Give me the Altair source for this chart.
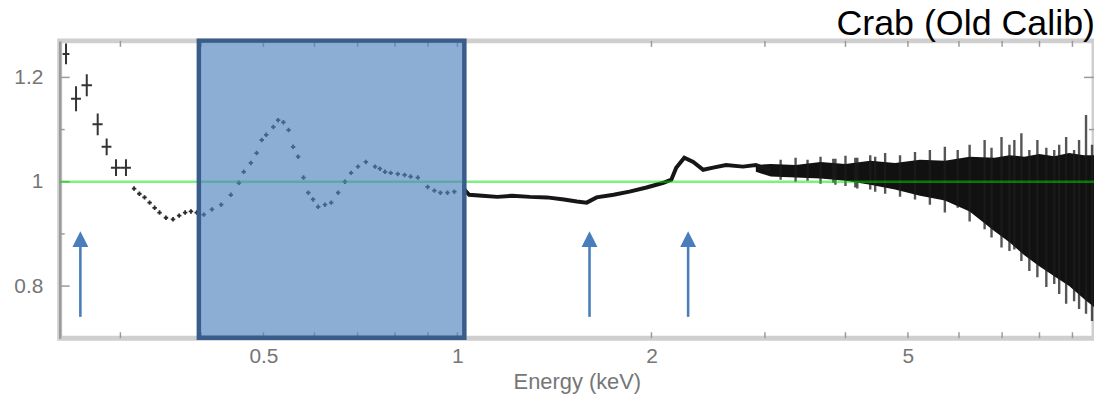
import altair as alt
import pandas as pd

# ---------------- data ----------------
TITLE = ["Crab (Old Calib)"]

# low-energy points with error bars (crosses)
CROSS_E = [0.247, 0.256, 0.266, 0.2766, 0.2856, 0.2953, 0.306]
CROSS_E_LO = [0.244, 0.2515, 0.261, 0.2715, 0.2805, 0.290, 0.3005]
CROSS_E_HI = [0.250, 0.2605, 0.271, 0.2815, 0.2905, 0.3005, 0.3115]
CROSS_R = [1.245, 1.159, 1.185, 1.110, 1.067, 1.027, 1.027]
CROSS_RERR = [0.020, 0.024, 0.021, 0.021, 0.016, 0.016, 0.016]

# dotted part 0.3 - 1 keV
DOT_E = [0.315, 0.321, 0.327, 0.333, 0.339, 0.345, 0.353, 0.362, 0.370, 0.378,
         0.386, 0.394, 0.404, 0.416, 0.430, 0.445, 0.458, 0.466, 0.478, 0.488,
         0.497, 0.505, 0.518, 0.527, 0.537, 0.547, 0.556, 0.566, 0.577, 0.587,
         0.597, 0.608, 0.623, 0.637, 0.653, 0.669, 0.684, 0.701, 0.721, 0.745,
         0.758, 0.772, 0.788, 0.808, 0.828, 0.846, 0.868, 0.899, 0.921, 0.941,
         0.965, 0.989, 1.025]
DOT_R = [0.987, 0.977, 0.970, 0.960, 0.950, 0.941, 0.931, 0.928, 0.935, 0.941,
         0.943, 0.941, 0.937, 0.947, 0.956, 0.975, 0.998, 1.019, 1.036, 1.055,
         1.080, 1.090, 1.105, 1.118, 1.114, 1.099, 1.067, 1.048, 1.008, 0.979,
         0.966, 0.952, 0.956, 0.960, 0.979, 1.000, 1.017, 1.029, 1.038, 1.029,
         1.025, 1.019, 1.017, 1.015, 1.013, 1.010, 1.008, 0.990, 0.983, 0.979,
         0.979, 0.981, 0.985]

# dense continuous part 1 - 3 keV
LINE_E = [1.025, 1.043, 1.093, 1.153, 1.216, 1.296, 1.377, 1.463, 1.532, 1.587,
          1.644, 1.747, 1.849, 1.965, 2.087, 2.147, 2.185, 2.249, 2.322, 2.406,
          2.493, 2.611, 2.773, 2.904, 2.977, 3.063]
LINE_R = [0.985, 0.975, 0.973, 0.971, 0.973, 0.971, 0.970, 0.966, 0.962, 0.960,
          0.970, 0.975, 0.981, 0.989, 0.998, 1.004, 1.027, 1.046, 1.038, 1.023,
          1.027, 1.032, 1.029, 1.032, 1.027, 1.023]

# noisy high-energy part: envelope of the dense black band
BAND_E = [2.904, 3.063, 3.347, 3.659, 3.999, 4.370, 4.775, 5.220, 5.705, 6.233,
          6.813, 7.186, 7.579, 7.994, 8.433, 8.894, 9.381, 9.720]
BAND_TOP = [1.032, 1.034, 1.032, 1.038, 1.034, 1.040, 1.036, 1.042, 1.040, 1.048,
            1.046, 1.051, 1.048, 1.053, 1.049, 1.055, 1.051, 1.051]
BAND_BOT = [1.019, 1.010, 1.008, 1.006, 1.002, 0.994, 0.985, 0.973, 0.964, 0.943,
            0.905, 0.884, 0.859, 0.838, 0.819, 0.800, 0.775, 0.760]

# individual large error bars sticking out of the band
SPIKE_E = [3.173, 3.347, 3.493, 3.659, 3.830, 4.000, 4.173, 4.370, 4.609,
           3.859, 4.143, 4.448, 4.861, 5.128, 5.408, 5.705, 5.973, 6.233, 6.576,
           6.740, 6.985, 7.186, 7.313, 7.499, 7.715, 7.940, 8.198, 8.433, 8.583,
           8.799, 9.053, 9.215, 9.447, 9.652]
SPIKE_HI = [1.042, 1.046, 1.042, 1.048, 1.044, 1.050, 1.046, 1.051, 1.055,
            1.044, 1.046, 1.048, 1.051, 1.057, 1.061, 1.067, 1.061, 1.071, 1.080,
            1.065, 1.086, 1.071, 1.080, 1.093, 1.061, 1.080, 1.065, 1.061, 1.071,
            1.086, 1.061, 1.080, 1.128, 1.071]
SPIKE_LO = [1.004, 1.000, 1.002, 0.996, 0.998, 0.992, 0.987, 0.985, 0.977,
            0.994, 0.989, 0.981, 0.971, 0.966, 0.956, 0.941, 0.950, 0.924, 0.909,
            0.893, 0.874, 0.867, 0.870, 0.848, 0.829, 0.817, 0.798, 0.804, 0.785,
            0.766, 0.771, 0.756, 0.747, 0.733]

GREEN_R = [1.0]

# highlighted energy band (blue box)
BOX_E = [0.397]
BOX_E2 = [1.025]
BOX_R = [1.2705]
BOX_R2 = [0.701]

# arrows
ARROW_E = [0.260, 1.603, 2.280]
ARROW_BOTTOM = [0.741, 0.741, 0.741]
ARROW_TOP = [0.885, 0.885, 0.885]
ARROW_HEAD = [0.890, 0.890, 0.890]

# axis ticks
X_LABELS = [0.5, 1, 2, 5]
X_TICKS = [0.3, 0.4, 0.5, 0.6, 0.7, 0.8, 0.9, 1, 2, 3, 4, 5, 6, 7, 8, 9]
Y_LABELS = [0.8, 1.0, 1.2]
Y_TICKS_MINOR = [0.9, 1.1]

W, H = 1040, 299

# ---------------- frames ----------------
cross_df = pd.DataFrame({"E": CROSS_E, "Elo": CROSS_E_LO, "Ehi": CROSS_E_HI,
                         "R": CROSS_R,
                         "Rlo": [r - e for r, e in zip(CROSS_R, CROSS_RERR)],
                         "Rhi": [r + e for r, e in zip(CROSS_R, CROSS_RERR)]})
dot_df = pd.DataFrame({"E": DOT_E, "R": DOT_R})
line_df = pd.DataFrame({"E": LINE_E, "R": LINE_R})
band_df = pd.DataFrame({"E": BAND_E, "R": BAND_TOP, "R2": BAND_BOT})
spike_df = pd.DataFrame({"E": SPIKE_E, "R": SPIKE_HI, "R2": SPIKE_LO})
green_df = pd.DataFrame({"R": GREEN_R})
box_df = pd.DataFrame({"E": BOX_E, "E2": BOX_E2, "R": BOX_R, "R2": BOX_R2})
arrow_df = pd.DataFrame({"E": ARROW_E, "R": ARROW_BOTTOM, "R2": ARROW_TOP, "H": ARROW_HEAD})
xt_df = pd.DataFrame({"E": X_TICKS})
yt_major_df = pd.DataFrame({"R": Y_LABELS})
yt_minor_df = pd.DataFrame({"R": Y_TICKS_MINOR})
title_df = pd.DataFrame({"t": TITLE})

xscale = alt.Scale(type="log", domain=[0.2415, 9.72], nice=False)
yscale = alt.Scale(domain=[0.70, 1.27], nice=False, zero=False)

LABEL_FONT = "Liberation Sans"
xaxis = alt.Axis(values=X_LABELS, format=".1~f", title="Energy (keV)", grid=False,
                 ticks=False, domain=False, labelPadding=7, labelFontSize=21,
                 labelColor="#767676", labelFont=LABEL_FONT, titleFont=LABEL_FONT,
                 titleFontSize=22, titleFontWeight="normal", titleColor="#767676",
                 titlePadding=6)
yaxis = alt.Axis(values=Y_LABELS, format=".1~f", title=None, grid=False,
                 ticks=False, domain=True, domainColor="#9a9a9a", domainWidth=2.5,
                 labelPadding=17, labelFontSize=21, labelColor="#767676",
                 labelFont=LABEL_FONT)


def X(f="E"):
    return alt.X(f, type="quantitative", scale=xscale, axis=xaxis)


def Y(f="R"):
    return alt.Y(f, type="quantitative", scale=yscale, axis=yaxis)


band = alt.Chart(band_df).mark_area(color="#111111", clip=True).encode(
    x=X(), y=Y(), y2="R2")
spikes = alt.Chart(spike_df).mark_rule(color="#1c1c1c", strokeWidth=2.4, opacity=0.75,
                                       clip=True).encode(x=X(), y=Y(), y2="R2")
line = alt.Chart(line_df).mark_line(color="#161616", strokeWidth=4).encode(
    x=X(), y=Y())
dots = alt.Chart(dot_df).mark_point(shape="cross", filled=True, size=20,
                                    color="#2a2a2a", opacity=1).encode(x=X(), y=Y())
cross_v = alt.Chart(cross_df).mark_rule(color="#333333", strokeWidth=2,
                                        clip=True).encode(x=X(), y=Y("Rlo"), y2="Rhi")
cross_h = alt.Chart(cross_df).mark_rule(color="#333333", strokeWidth=2,
                                        clip=True).encode(x=X("Elo"), x2="Ehi", y=Y())
green = alt.Chart(green_df).mark_rule(color="#00e000", opacity=0.5,
                                      strokeWidth=2.6).encode(y=Y())
box = alt.Chart(box_df).mark_rect(fill="#4F81BD", fillOpacity=0.65, stroke="#385D8A",
                                  strokeWidth=4.5).encode(x=X(), x2="E2", y=Y(), y2="R2")
arrow_shaft = alt.Chart(arrow_df).mark_rule(color="#4A7EBB", strokeWidth=2.6).encode(
    x=X(), y=Y(), y2="R2")
arrow_head = alt.Chart(arrow_df).mark_point(shape="M0,-1L1,1L-1,1Z", size=256,
                                            filled=True, color="#4A7EBB",
                                            opacity=1).encode(x=X(), y=Y("H"))

# inward ticks on the frame
xt_bottom = alt.Chart(xt_df).mark_rule(color="#9a9a9a", strokeWidth=1.5).encode(
    x=X(), y=alt.value(H), y2=alt.value(H - 6))
xt_top = alt.Chart(xt_df).mark_rule(color="#9a9a9a", strokeWidth=1.5).encode(
    x=X(), y=alt.value(0), y2=alt.value(6))
yt_left = alt.Chart(yt_major_df).mark_rule(color="#9a9a9a", strokeWidth=1.5).encode(
    y=Y(), x=alt.value(0), x2=alt.value(10))
yt_left_minor = alt.Chart(yt_minor_df).mark_rule(color="#9a9a9a", strokeWidth=1.5).encode(
    y=Y(), x=alt.value(0), x2=alt.value(5))
yt_right = alt.Chart(yt_major_df).mark_rule(color="#9a9a9a", strokeWidth=1.5).encode(
    y=Y(), x=alt.value(W), x2=alt.value(W - 10))
yt_right_minor = alt.Chart(yt_minor_df).mark_rule(color="#9a9a9a", strokeWidth=1.5).encode(
    y=Y(), x=alt.value(W), x2=alt.value(W - 5))

title = alt.Chart(title_df).mark_text(
    align="right", baseline="alphabetic", fontSize=36, font="Liberation Sans",
    color="black").encode(text="t:N", x=alt.value(W + 1), y=alt.value(-6))

chart = alt.layer(
    xt_bottom, xt_top, yt_left, yt_left_minor, yt_right, yt_right_minor,
    band, spikes, line, dots, cross_v, cross_h, green, box, arrow_shaft, arrow_head,
    title
).properties(
    width=W, height=H,
    padding={"left": 52, "top": 32, "right": 0, "bottom": 56},
    autosize=alt.AutoSizeParams(type="none"),
).configure_view(stroke="#cfcfcf", strokeWidth=5)

chart.save("out.html", embed_options={"renderer": "svg", "actions": False})
